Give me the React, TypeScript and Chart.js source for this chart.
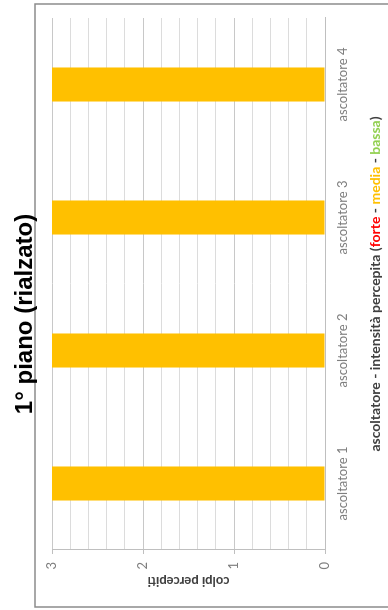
import { useEffect, useRef } from 'react';
import { Chart, registerables } from 'chart.js';

Chart.register(...registerables);

const categories = ['ascoltatore 1', 'ascoltatore 2', 'ascoltatore 3', 'ascoltatore 4'];
const colpiPercepiti = [3, 3, 3, 3];
const valueTickLabels = [0, 1, 2, 3];
const chartTitle = '1° piano (rialzato)';
const yAxisTitle = 'colpi percepiti';
const xAxisTitleTexts = ['ascoltatore - intensità percepita (', 'forte', ' - ', 'media', ' - ', 'bassa', ')'];
const xAxisTitleColors = ['#404040', '#FF0000', '#404040', '#FFC000', '#404040', '#92D050', '#404040'];

const W = 610;
const H = 388;

const isMajor = (v: number) => Math.abs(v - Math.round(v)) < 1e-6;

const framePlugin = {
  id: 'frame',
  beforeDraw(chart: any) {
    const ctx = chart.ctx;
    ctx.save();
    ctx.fillStyle = '#ffffff';
    ctx.fillRect(0, 0, chart.width, chart.height);
    ctx.strokeStyle = '#8c8c8c';
    ctx.lineWidth = 1.5;
    ctx.strokeRect(3, 35, 603, 400);
    ctx.restore();
  },
};

const colouredXTitlePlugin = {
  id: 'colouredXTitle',
  afterDraw(chart: any) {
    const ctx = chart.ctx;
    const area = chart.chartArea;
    ctx.save();
    ctx.font = 'bold 14px Lato';
    ctx.textBaseline = 'middle';
    ctx.textAlign = 'left';
    const widths = xAxisTitleTexts.map((t) => ctx.measureText(t).width);
    const total = widths.reduce((a, b) => a + b, 0);
    let x = (area.left + area.right) / 2 - total / 2;
    const y = area.bottom + 50;
    xAxisTitleTexts.forEach((t, i) => {
      ctx.fillStyle = xAxisTitleColors[i];
      ctx.fillText(t, x, y);
      x += widths[i];
    });
    ctx.restore();
  },
};

export default function App() {
  const canvasRef = useRef<HTMLCanvasElement>(null);

  useEffect(() => {
    if (!canvasRef.current) return;
    const chart = new Chart(canvasRef.current, {
      type: 'bar',
      data: {
        labels: categories,
        datasets: [
          {
            data: colpiPercepiti,
            backgroundColor: '#FFC000',
            barPercentage: 0.256,
            categoryPercentage: 1,
          },
        ],
      },
      options: {
        animation: false,
        responsive: false,
        layout: { padding: { left: 0, right: 18, top: 0, bottom: 0 } },
        plugins: {
          legend: { display: false },
          tooltip: { enabled: false },
          title: {
            display: true,
            text: chartTitle,
            color: '#000000',
            font: { family: 'Liberation Sans', size: 24, weight: 'bold' },
            padding: { top: 10.6, bottom: 12.6 },
          },
        },
        scales: {
          x: {
            ticks: {
              color: '#7f7f7f',
              font: { family: 'Lato', size: 13 },
              padding: 10,
              maxRotation: 0,
              autoSkip: false,
            },
            grid: { display: false, drawTicks: false },
            border: { display: true, color: '#bfbfbf', width: 1 },
            afterFit: (s: any) => {
              s.height = 63;
            },
          },
          y: {
            min: 0,
            max: 3,
            ticks: {
              stepSize: 0.2,
              autoSkip: false,
              padding: 8,
              color: '#7f7f7f',
              font: { family: 'Lato', size: 13 },
              callback: (v: any) => {
                const r = Math.round(Number(v));
                return isMajor(Number(v)) && valueTickLabels.includes(r) ? String(r) : '';
              },
            },
            grid: {
              color: (c: any) => (c.tick && isMajor(c.tick.value) ? '#c8c8c8' : '#dcdcdc'),
              lineWidth: 1,
              drawTicks: true,
              tickLength: 4,
              tickColor: (c: any) => (c.tick && isMajor(c.tick.value) ? '#bfbfbf' : 'rgba(0,0,0,0)'),
            },
            border: { display: true, color: '#bfbfbf', width: 1 },
            title: {
              display: true,
              text: yAxisTitle,
              color: '#404040',
              font: { family: 'Lato', size: 13, weight: 'bold' },
              padding: { top: 21, bottom: 0 },
            },
            afterFit: (s: any) => {
              s.width = 60;
            },
          },
        },
      },
      plugins: [framePlugin, colouredXTitlePlugin],
    });
    return () => chart.destroy();
  }, []);

  return (
    <div
      style={{
        position: 'fixed',
        left: 0,
        top: 0,
        width: 388,
        height: 610,
        overflow: 'hidden',
        background: '#ffffff',
      }}
    >
      <div
        style={{
          position: 'absolute',
          left: 0,
          top: 0,
          width: W,
          height: H,
          transformOrigin: '0 0',
          transform: `translateY(${W}px) rotate(-90deg)`,
        }}
      >
        <canvas ref={canvasRef} width={W} height={H} style={{ display: 'block', width: W, height: H }} />
      </div>
    </div>
  );
}
